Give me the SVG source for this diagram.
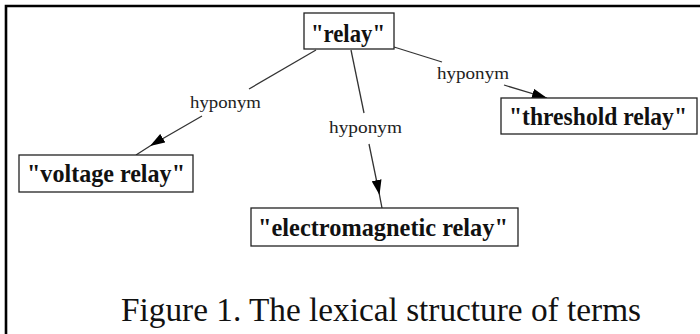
<svg xmlns="http://www.w3.org/2000/svg" width="700" height="334" viewBox="0 0 700 334">
  <style>
    .frame { fill: none; stroke: #000; stroke-width: 2.6; }
    .box { fill: #fff; stroke: #222; stroke-width: 1.3; }
    .term { font-family: "Liberation Serif", "Times New Roman", serif; font-weight: bold; font-size: 26px; fill: #111; }
    .edge { fill: none; stroke: #333; stroke-width: 1.3; }
    .rel { font-family: "Liberation Serif", "Times New Roman", serif; font-size: 17px; fill: #222; }
    .caption { font-family: "Liberation Serif", "Times New Roman", serif; font-size: 34px; fill: #111; }
  </style>
  <defs>
    <marker id="arrow" viewBox="0 0 15 10" refX="15" refY="5" markerUnits="userSpaceOnUse" markerWidth="15" markerHeight="10" orient="auto">
      <path d="M0,0 L15,5 L0,10 z" fill="#000"/>
    </marker>
  </defs>

  <rect width="700" height="334" fill="#fff"/>
  <!-- open frame: top and left edges only -->
  <path class="frame" d="M6,334 L6,6 L700,6"/>

  <g id="connectors">
    <!-- relay -> voltage relay -->
    <path class="edge" d="M316,50 L249,89"/>
    <path class="edge" d="M202,116 L150,146 L136,155" marker-mid="url(#arrow)"/>
    <text class="rel" x="190" y="108" textLength="71" lengthAdjust="spacingAndGlyphs">hyponym</text>
    <!-- relay -> electromagnetic relay -->
    <path class="edge" d="M351,50 L364,113"/>
    <path class="edge" d="M369,144 L379.5,195 L382,208" marker-mid="url(#arrow)"/>
    <text class="rel" x="329" y="133" textLength="73" lengthAdjust="spacingAndGlyphs">hyponym</text>
    <!-- relay -> threshold relay -->
    <path class="edge" d="M394,47 L442,62"/>
    <path class="edge" d="M504,85 L547,98" marker-end="url(#arrow)"/>
    <text class="rel" x="437" y="79" textLength="72" lengthAdjust="spacingAndGlyphs">hyponym</text>
  </g>

  <g id="node-relay">
    <rect class="box" x="304" y="13" width="90" height="36"/>
    <text class="term" x="311" y="42" textLength="74" lengthAdjust="spacingAndGlyphs">"relay"</text>
  </g>
  <g id="node-threshold-relay">
    <rect class="box" x="501" y="98" width="196" height="36"/>
    <text class="term" x="509" y="125" textLength="178" lengthAdjust="spacingAndGlyphs">"threshold relay"</text>
  </g>
  <g id="node-voltage-relay">
    <rect class="box" x="19" y="155" width="174" height="37"/>
    <text class="term" x="27" y="182" textLength="158" lengthAdjust="spacingAndGlyphs">"voltage relay"</text>
  </g>
  <g id="node-electromagnetic-relay">
    <rect class="box" x="251" y="208" width="267" height="38"/>
    <text class="term" x="258" y="236" textLength="250" lengthAdjust="spacingAndGlyphs">"electromagnetic relay"</text>
  </g>

  <text class="caption" x="121" y="321" textLength="520" lengthAdjust="spacingAndGlyphs">Figure 1. The lexical structure of terms</text>
</svg>
